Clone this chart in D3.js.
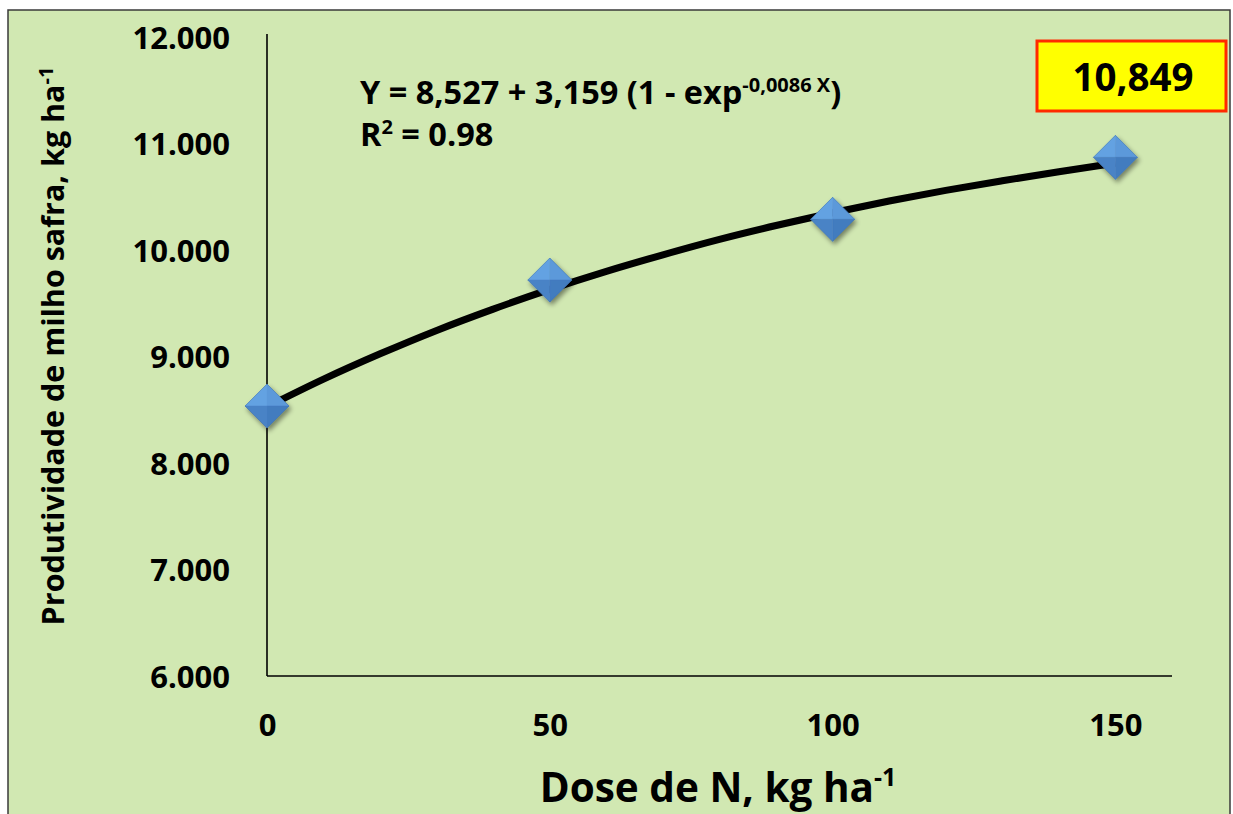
<!DOCTYPE html>
<html>
<head>
<meta charset="utf-8">
<script src="https://cdn.jsdelivr.net/npm/d3@7"></script>
<style>
  html, body { margin: 0; padding: 0; background: #ffffff; }
  svg { display: block; }
  text { font-family: "Open Sans", "Noto Sans", sans-serif; font-weight: 700; fill: #000; }
</style>
</head>
<body>
<svg id="chart" width="1233" height="814"></svg>
<script>
// ---- data ----
const doses = [0, 50, 100, 150];
const yields = [8535, 9718, 10288, 10870];
// fitted curve
const fitDoses = [0, 10, 20, 30, 40, 50, 60, 70, 80, 90, 100, 110, 120, 130, 140, 150];
const fitYields = [8527, 8787, 9025, 9245, 9445, 9630, 9800, 9955, 10100, 10230, 10350, 10460, 10560, 10650, 10735, 10815];
const xTicks = [0, 50, 100, 150];
const yTicks = [6000, 7000, 8000, 9000, 10000, 11000, 12000];
const yTickLabels = ["6.000", "7.000", "8.000", "9.000", "10.000", "11.000", "12.000"];
const highlightLabel = "10,849";

const svg = d3.select("#chart");

// chart area background + frame
svg.append("rect").attr("x", 8).attr("y", 10).attr("width", 1222).attr("height", 820)
  .attr("fill", "#d1e8b2").attr("stroke", "#3a3a3a").attr("stroke-width", 1.5);

const x = d3.scaleLinear().domain([0, 160]).range([267, 1172]);
const y = d3.scaleLinear().domain([6000, 12000]).range([676, 37]);

// defs: shadow
const defs = svg.append("defs");
const f = defs.append("filter").attr("id", "shadow").attr("x", "-50%").attr("y", "-50%").attr("width", "200%").attr("height", "200%");
f.append("feGaussianBlur").attr("in", "SourceAlpha").attr("stdDeviation", 2.5).attr("result", "b");
f.append("feOffset").attr("in", "b").attr("dx", 1.5).attr("dy", 3).attr("result", "o");
f.append("feComponentTransfer").attr("in", "o").attr("result", "o2")
  .append("feFuncA").attr("type", "linear").attr("slope", 0.45);
const m = f.append("feMerge");
m.append("feMergeNode").attr("in", "o2");
m.append("feMergeNode").attr("in", "SourceGraphic");

// axes
const yAxis = d3.axisLeft(y).tickValues(yTicks).tickSize(0)
  .tickFormat((d, i) => yTickLabels[i]);
const gy = svg.append("g").attr("transform", `translate(${x(0)},0)`).call(yAxis);
gy.select(".domain").attr("stroke", "#000").attr("stroke-width", 1.6).attr("d", `M0,${y(6000)}V34`);
gy.selectAll(".tick text").attr("x", -37).attr("dy", "0.36em")
  .style("font-size", "31px").style("font-family", "'Open Sans', sans-serif").style("font-weight", 700).attr("fill", "#000");

const xAxis = d3.axisBottom(x).tickValues(xTicks).tickSize(0).tickFormat(d3.format("d"));
const gx = svg.append("g").attr("transform", `translate(0,${y(6000)})`).call(xAxis);
gx.select(".domain").attr("stroke", "#000").attr("stroke-width", 1.6).attr("d", `M${x(0)},0H${x(160)}`);
gx.selectAll(".tick text").attr("y", 49).attr("dy", "0.36em")
  .style("font-size", "31px").style("font-family", "'Open Sans', sans-serif").style("font-weight", 700).attr("fill", "#000");

// fitted curve
const fit = fitDoses.map((d, i) => ({ x: d, y: fitYields[i] }));
const line = d3.line().x(d => x(d.x)).y(d => y(d.y)).curve(d3.curveMonotoneX);
svg.append("path").datum(fit).attr("d", line)
  .attr("fill", "none").attr("stroke", "#000").attr("stroke-width", 7).attr("stroke-linecap", "butt");

// diamonds
const pts = doses.map((d, i) => ({ x: d, y: yields[i] }));
const r = 22;
const gp = svg.append("g").selectAll("g").data(pts).join("g")
  .attr("transform", d => `translate(${x(d.x)},${y(d.y)})`)
  .attr("filter", "url(#shadow)");
const facets = [
  { p: [[-r, 0], [0, -r], [0, 0]], c: "#64a2e2" },
  { p: [[0, -r], [r, 0], [0, 0]], c: "#5c99da" },
  { p: [[r, 0], [0, r], [0, 0]], c: "#437bbf" },
  { p: [[0, r], [-r, 0], [0, 0]], c: "#4a83c6" }
];
facets.forEach(fc => {
  gp.append("path").attr("d", "M" + fc.p.map(q => q.join(",")).join("L") + "Z")
    .attr("fill", fc.c).attr("stroke", fc.c).attr("stroke-width", 0.5);
});
gp.append("path").attr("d", `M${-r},0L0,${-r}L${r},0L0,${r}Z`)
  .attr("fill", "none").attr("stroke", "#3d6fa8").attr("stroke-width", 0.8).attr("stroke-opacity", 0.6);

// equation
const eq = svg.append("text").attr("x", 360).attr("y", 104).style("font-size", "32.5px");
eq.append("tspan").text("Y = 8,527 + 3,159 (1 - exp");
eq.append("tspan").attr("dy", -12).style("font-size", "20px").text("-0,0086 X");
eq.append("tspan").attr("dy", 12).text(")");
const r2 = svg.append("text").attr("x", 360).attr("y", 146).style("font-size", "32.5px");
r2.append("tspan").text("R");
r2.append("tspan").attr("dy", -12).style("font-size", "20px").text("2");
r2.append("tspan").attr("dy", 12).text(" = 0.98");

// highlighted value box
svg.append("rect").attr("x", 1037).attr("y", 41).attr("width", 189).attr("height", 70)
  .attr("fill", "#ffff00").attr("stroke", "#ff2a00").attr("stroke-width", 3);
svg.append("text").attr("x", 1133).attr("y", 77).attr("dy", "0.36em").attr("text-anchor", "middle")
  .style("font-size", "38.5px").text(highlightLabel);

// axis titles
const xt = svg.append("text").attr("x", 718).attr("y", 802).attr("text-anchor", "middle").style("font-size", "40.5px");
xt.append("tspan").text("Dose de N, kg ha");
xt.append("tspan").attr("dy", -16).style("font-size", "25px").text("-1");

const yt = svg.append("text").attr("transform", "translate(64,346) rotate(-90)").attr("text-anchor", "middle").style("font-size", "30.5px");
yt.append("tspan").text("Produtividade de milho safra, kg ha");
yt.append("tspan").attr("dy", -11).style("font-size", "20px").text("-1");
</script>
</body>
</html>
